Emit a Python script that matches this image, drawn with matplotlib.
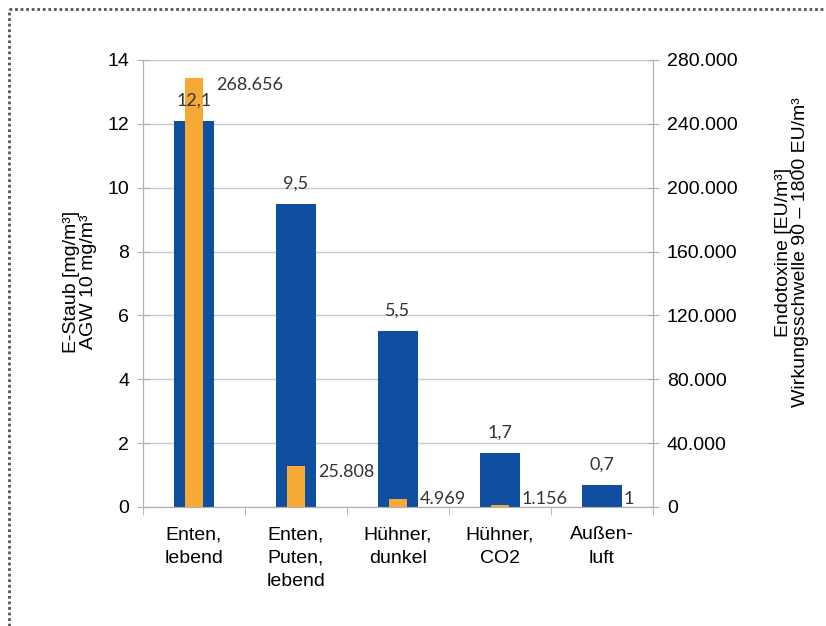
import matplotlib.pyplot as plt
from matplotlib.lines import Line2D
import numpy as np

categories = ["Enten,\nlebend", "Enten,\nPuten,\nlebend", "Hühner,\ndunkel", "Hühner,\nCO2", "Außen-\nluft"]
staub = [12.1, 9.5, 5.5, 1.7, 0.7]
endotoxine = [268656, 25808, 4969, 1156, 1]
staub_labels = ["12,1", "9,5", "5,5", "1,7", "0,7"]
endo_labels = ["268.656", "25.808", "4.969", "1.156", "1"]
left_ticks = [0, 2, 4, 6, 8, 10, 12, 14]
right_ticks = [0, 40000, 80000, 120000, 160000, 200000, 240000, 280000]
right_ticklabels = ["0", "40.000", "80.000", "120.000", "160.000", "200.000", "240.000", "280.000"]

blue = "#0E4F9F"
orange = "#F7A935"
axis_grey = "#B0B0B0"
label_color = "#333333"

plt.rcParams['font.family'] = ['Liberation Sans', 'DejaVu Sans']

fig = plt.figure(figsize=(8.26, 6.26), dpi=100)
ax = fig.add_axes([0.1731, 0.1901, 0.6175, 0.7141])
ax2 = ax.twinx()

x = np.arange(len(categories))
ax.bar(x, staub, 0.39, color=blue, zorder=2)
ax2.bar(x, endotoxine, 0.17, color=orange, zorder=3)

ax.set_xlim(-0.5, 4.5)
ax.set_ylim(0, 14)
ax2.set_ylim(0, 280000)

ax.set_yticks(left_ticks)
ax.set_yticklabels([str(t) for t in left_ticks])
ax2.set_yticks(right_ticks)
ax2.set_yticklabels(right_ticklabels)
ax.yaxis.grid(True, color="#C8C8C8", lw=1.0)
ax.set_axisbelow(True)

ax.set_xticks(x)
ax.set_xticklabels(categories, linespacing=1.5)
ax.set_xticks(np.arange(-0.5, 5, 1.0), minor=True)
ax.tick_params(axis='x', which='major', length=0, pad=14, labelsize=14)
ax.tick_params(axis='x', which='minor', length=6, color=axis_grey, direction='out')
ax.tick_params(axis='y', length=8, direction='inout', color=axis_grey, labelsize=14, pad=6)
ax2.tick_params(axis='y', length=8, direction='inout', color=axis_grey, labelsize=14, pad=6)

for a in (ax, ax2):
    a.spines['top'].set_visible(False)
    for s in ('left', 'right', 'bottom'):
        a.spines[s].set_color(axis_grey)

ax.set_ylabel("E-Staub [mg/m³]\nAGW 10 mg/m³", fontsize=14, linespacing=1.0)
ax.yaxis.set_label_coords(-0.09, 0.503)
ax2.set_ylabel("Endotoxine [EU/m³]\nWirkungsschwelle 90 – 1800 EU/m³", fontsize=14, linespacing=1.0)
ax2.yaxis.set_label_coords(1.24, 0.57)

# value labels, all drawn on the front axes so they sit above both bar sets
for xi, v, lab in zip(x, staub, staub_labels):
    ax2.annotate(lab, (xi, v), xycoords=ax.transData, xytext=(0, 9), textcoords="offset points",
                 ha="center", va="bottom", fontsize=13, family="Lato", color=label_color, zorder=5)
for xi, v, lab in zip(x, endotoxine, endo_labels):
    ax2.annotate(lab, (xi + 0.2, max(v, 9000)), xytext=(1, 1), textcoords="offset points",
                 ha="left", va="top", fontsize=13, family="Lato", color=label_color, zorder=5)

# dotted frame along the top and left edges
fig.add_artist(Line2D([9 / 826, 1], [1 - 9 / 626, 1 - 9 / 626], transform=fig.transFigure,
                      color="#555555", lw=2, linestyle=(0, (1, 1))))
fig.add_artist(Line2D([9 / 826, 9 / 826], [0, 1 - 9 / 626], transform=fig.transFigure,
                      color="#555555", lw=2, linestyle=(0, (1, 1))))

fig.savefig("out.png", dpi=100)
